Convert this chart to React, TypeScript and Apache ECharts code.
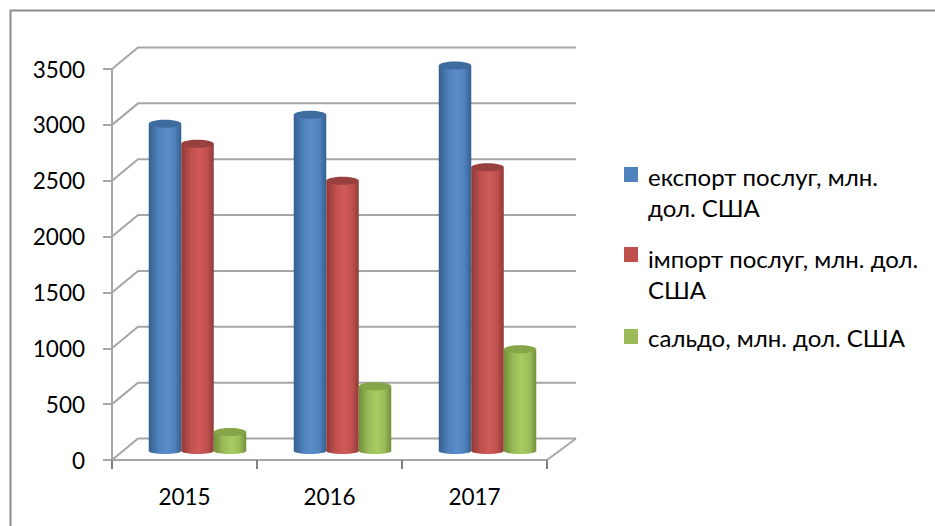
import React, { useEffect, useRef } from "react";
import * as echarts from "echarts";

const categories = ["2015", "2016", "2017"];
const seriesNames = ["експорт послуг, млн. дол. США", "імпорт послуг, млн. дол. США", "сальдо, млн. дол. США"];
const exportValues = [2930, 3010, 3450];
const importValues = [2750, 2420, 2540];
const saldoValues = [170, 580, 910];
const yTicks = [0, 500, 1000, 1500, 2000, 2500, 3000, 3500];
const fills = [
  { edge: "#35608f", mid: "#4f81bd", light: "#5a8dcb", top: "#3f6c9f" },
  { edge: "#8f3b39", mid: "#c0504d", light: "#d05b58", top: "#97403d" },
  { edge: "#718f38", mid: "#9bbb59", light: "#a8cc60", top: "#86a548" },
];
const FONT = "Lato";
const DX = 26;
const DY = 21.5;
const GRID_COLOR = "#a6a6a6";

function cylinderItem(idx: number) {
  return (params: any, api: any) => {
    const cat = api.value(0);
    const val = api.value(1);
    const base = api.coord([cat, 0]);
    const top = api.coord([cat, val]);
    const w = 32.5;
    const cx = base[0] + 13 + (idx - 1) * w;
    const x0 = cx - w / 2;
    const by = base[1] - 9;
    const ty = top[1] - 9;
    const f = fills[idx];
    const grad = {
      type: "linear", x: 0, y: 0, x2: 1, y2: 0,
      colorStops: [
        { offset: 0, color: f.edge },
        { offset: 0.3, color: f.mid },
        { offset: 0.55, color: f.light },
        { offset: 0.8, color: f.mid },
        { offset: 1, color: f.edge },
      ],
    };
    return {
      type: "group",
      children: [
        { type: "ellipse", shape: { cx, cy: by, rx: w / 2, ry: 3 }, style: { fill: grad } },
        { type: "rect", shape: { x: x0, y: ty, width: w, height: by - ty }, style: { fill: grad } },
        { type: "ellipse", shape: { cx, cy: ty, rx: w / 2, ry: 4 }, style: { fill: f.top } },
      ],
    };
  };
}

function wallItem(params: any, api: any) {
  const p = api.coord([0, api.value(0)]);
  const sys = params.coordSys;
  const x0 = sys.x;
  const x1 = sys.x + sys.width;
  return {
    type: "polyline",
    shape: { points: [[x0, p[1]], [x0 + DX, p[1] - DY], [x1 + DX + 3, p[1] - DY]] },
    style: { stroke: GRID_COLOR, lineWidth: 2, fill: "none" },
  };
}

function floorItem(params: any, api: any) {
  const sys = params.coordSys;
  const y = sys.y + sys.height;
  const x1 = sys.x + sys.width;
  return {
    type: "line",
    shape: { x1, y1: y, x2: x1 + DX + 3, y2: y - DY },
    style: { stroke: GRID_COLOR, lineWidth: 2 },
  };
}

const offsetIcon = (offset: number, h: number) =>
  `path://M0 0L0 0ZM0 ${offset}H14V${offset + 15}H0ZM0 ${h}L0 ${h}Z`;

export default function App() {
  const ref = useRef<HTMLDivElement>(null);
  useEffect(() => {
    document.body.style.margin = "0";
    const chart = echarts.init(ref.current!, null, { renderer: "svg" });
    const legendBase = {
      orient: "vertical", itemWidth: 14, selectedMode: false, padding: 0,
      itemGap: 0, itemStyle: { borderWidth: 0 },
      textStyle: { fontFamily: FONT, fontSize: 24, color: "#000000", lineHeight: 31, padding: [0, 0, 0, 5] },
    };
    chart.setOption({
      animation: false,
      backgroundColor: "#ffffff",
      graphic: [{ type: "polyline", silent: true, z: -1, shape: { points: [[10.5, 526], [10.5, 10.5], [935, 10.5]] }, style: { fill: "none", stroke: "#8c8c8c", lineWidth: 2 } }],
      grid: { left: 112, top: 69, width: 435, height: 391, containLabel: false },
      xAxis: {
        type: "category", data: categories,
        axisLine: { lineStyle: { color: GRID_COLOR, width: 2 } },
        axisTick: { show: true, length: 9, alignWithLabel: false, lineStyle: { color: "#808080", width: 2 } },
        axisLabel: { fontFamily: FONT, fontSize: 22.5, color: "#000000", margin: 25 },
        splitLine: { show: false },
      },
      yAxis: {
        type: "value", min: 0, max: 3500, interval: 500,
        axisLine: { show: true, lineStyle: { color: GRID_COLOR, width: 2 } },
        axisTick: { show: true, length: 9, lineStyle: { color: GRID_COLOR, width: 2 } },
        axisLabel: { fontFamily: FONT, fontSize: 22.5, color: "#000000", margin: 27, formatter: (v: number) => String(v) },
        splitLine: { show: false },
      },
      legend: [
        { ...legendBase, left: 624, top: 160.5, itemHeight: 62, data: [{ name: seriesNames[0], icon: offsetIcon(6.5, 62) }],
          formatter: () => "експорт послуг, млн.\nдол. США" },
        { ...legendBase, left: 624, top: 242.5, itemHeight: 62, data: [{ name: seriesNames[1], icon: offsetIcon(4.5, 62) }],
          formatter: () => "імпорт послуг, млн. дол.\nСША" },
        { ...legendBase, left: 624, top: 321.5, itemHeight: 31, data: [{ name: seriesNames[2], icon: offsetIcon(7.5, 31) }] },
      ],
      series: [
        { type: "custom", name: "walls", silent: true, z: 1, data: yTicks.map((t) => [t]), encode: { y: 0 }, renderItem: wallItem },
        { type: "custom", name: "floor", silent: true, z: 1, data: [[0]], encode: { y: 0 }, renderItem: floorItem },
        ...[exportValues, importValues, saldoValues].map((vals, i) => ({
          type: "custom", name: seriesNames[i], z: 3,
          itemStyle: { color: fills[i].mid },
          data: vals.map((v, c) => [c, v]),
          encode: { x: 0, y: 1 },
          renderItem: cylinderItem(i),
        })),
      ],
    });
    return () => chart.dispose();
  }, []);
  return <div ref={ref} style={{ width: 935, height: 526 }} />;
}
